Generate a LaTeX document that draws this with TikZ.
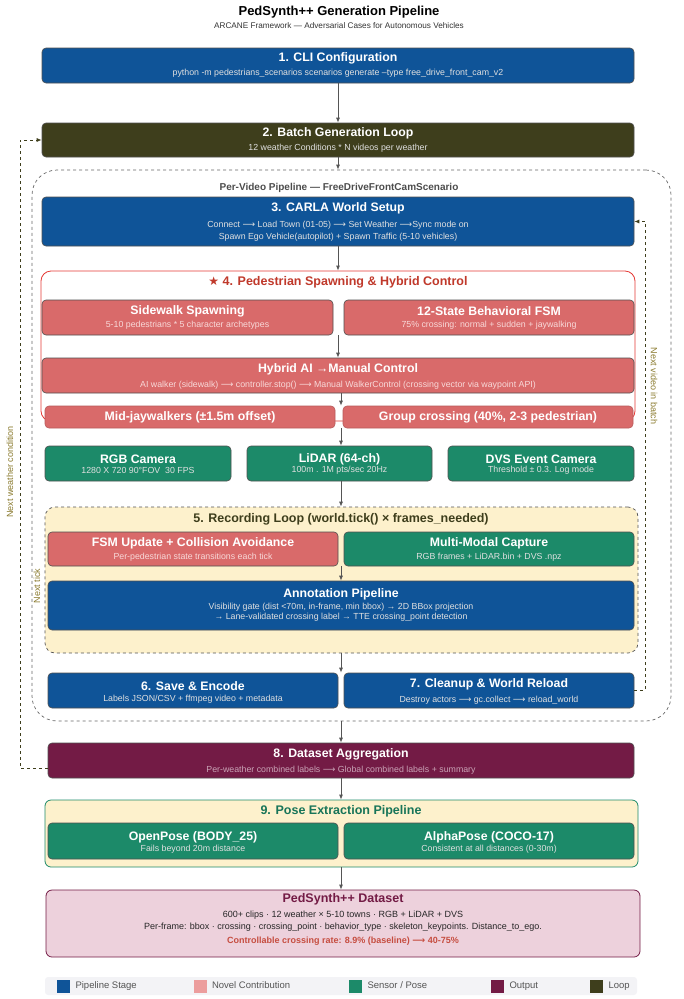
\documentclass[tikz,border=0pt]{standalone}
\usepackage{fontspec}
\setmainfont{Liberation Sans}
\newfontfamily\symfont{DejaVu Sans}
\usetikzlibrary{arrows.meta}
\definecolor{stageblue}{HTML}{0F5498}
\definecolor{novelred}{HTML}{D96A6A}
\definecolor{sensgreen}{HTML}{1C8A69}
\definecolor{outmaroon}{HTML}{731B45}
\definecolor{loopolive}{HTML}{3E3E1C}
\definecolor{paleyellow}{HTML}{FDF1CC}
\definecolor{palepink}{HTML}{EDD1DC}
\definecolor{legendpink}{HTML}{EC9D9D}
\definecolor{legendbg}{HTML}{F3F3F6}
\definecolor{arrowgray}{HTML}{555555}
\definecolor{framegray}{HTML}{666666}
\definecolor{boxedge}{HTML}{4F4F4F}
\definecolor{labelgold}{HTML}{8A7A2E}
\definecolor{redborder}{HTML}{E53935}
\definecolor{redtitle}{HTML}{C0392B}
\definecolor{subpink}{HTML}{F8D9D9}
\definecolor{submauve}{HTML}{C9A3B6}
\newcommand{\lra}{{\symfont ⟶}}
\begin{document}
\begin{tikzpicture}[x=1pt,y=-1pt,
    box/.style={draw=boxedge, line width=0.6pt, rounded corners=4pt, inner sep=0pt},
    stage/.style={box, fill=stageblue},
    novel/.style={box, fill=novelred},
    sensor/.style={box, fill=sensgreen},
    output/.style={box, fill=outmaroon},
    loopbox/.style={box, fill=loopolive},
    ttl/.style={text=white, font=\fontsize{12.3}{14}\selectfont\bfseries},
    sub/.style={text=white!88!black, font=\fontsize{8.8}{10}\selectfont},
    subp/.style={sub, text=subpink},
    grptitle/.style={font=\fontsize{12.5}{14}\selectfont\bfseries},
    flow/.style={draw=arrowgray, line width=0.8pt, -{Latex[length=5pt,width=4pt]}},
    back/.style={draw=loopolive, line width=0.8pt, dashed, -{Latex[length=5pt,width=4pt]}},
    looplabel/.style={text=labelgold, font=\fontsize{9}{10}\selectfont},
    legtxt/.style={anchor=west, text=arrowgray, text height=7pt, text depth=2pt, font=\fontsize{9.5}{11}\selectfont},
  ]
  \useasboundingbox (0,0) rectangle (683,999);

  % header
  \node[font=\fontsize{13}{15}\selectfont\bfseries] (title) at (339,12) {PedSynth++ Generation Pipeline};
  \node[font=\fontsize{8.2}{9}\selectfont, text=black!80] (subtitle) at (339,26) {ARCANE Framework — Adversarial Cases for Autonomous Vehicles};

  % 1. CLI
  \node[stage, minimum width=592pt, minimum height=35pt] (cli) at (338,65.5) {};
  \node[ttl] (cli-t) at (338,58) {1. CLI Configuration};
  \node[sub] (cli-s) at (338,73) {python -m pedestrians\_scenarios scenarios generate --type free\_drive\_front\_cam\_v2};

  % 2. batch loop
  \node[loopbox, minimum width=592pt, minimum height=34pt] (batch) at (338,140) {};
  \node[ttl] (batch-t) at (338,133) {2. Batch Generation Loop};
  \node[sub] (batch-s) at (338,148) {12 weather Conditions * N videos per weather};

  % per-video frame
  \node[draw=framegray, dashed, line width=0.7pt, rounded corners=25pt, minimum width=639pt, minimum height=551pt, inner sep=0pt] (pervid) at (351.5,445.5) {};
  \node[font=\fontsize{10}{11}\selectfont\bfseries, text=black!70] (pervid-t) at (339,188) {Per-Video Pipeline — FreeDriveFrontCamScenario};

  % 3. CARLA
  \node[stage, minimum width=592pt, minimum height=49pt] (carla) at (338,221.5) {};
  \node[ttl] (carla-t) at (338,208) {3. CARLA World Setup};
  \node[sub] (carla-s1) at (338,225) {Connect \lra{} Load Town (01-05) \lra{} Set Weather \lra{}Sync mode on};
  \node[sub] (carla-s2) at (338,237) {Spawn Ego Vehicle(autopilot) + Spawn Traffic (5-10 vehicles)};

  % 4. pedestrians
  \node[draw=redborder, line width=0.8pt, fill=white, rounded corners=10pt, minimum width=594pt, minimum height=150pt, inner sep=0pt] (pedgrp) at (338,346) {};
  \node[grptitle, text=redtitle] (pedgrp-t) at (338,282) {{\symfont\large ★} 4. Pedestrian Spawning \& Hybrid Control};
  \node[novel, minimum width=291pt, minimum height=35pt] (sidewalk) at (187.5,317.5) {};
  \node[ttl] (sidewalk-t) at (187.5,311) {Sidewalk Spawning};
  \node[subp] (sidewalk-s) at (187.5,325) {5-10 pedestrians * 5 character archetypes};
  \node[novel, minimum width=290pt, minimum height=35pt] (fsm) at (489,317.5) {};
  \node[ttl] (fsm-t) at (489,311) {12-State Behavioral FSM};
  \node[subp] (fsm-s) at (489,325) {75\% crossing: normal + sudden + jaywalking};
  \node[novel, minimum width=592pt, minimum height=35pt] (hybrid) at (338,375.5) {};
  \node[ttl] (hybrid-t) at (338,369) {Hybrid AI →Manual Control};
  \node[subp] (hybrid-s) at (338,385) {AI walker (sidewalk) \lra{} controller.stop() \lra{} Manual WalkerControl (crossing vector via waypoint API)};
  \node[novel, draw=novelred!85!black, minimum width=290pt, minimum height=22pt] (midjay) at (190,417) {};
  \node[ttl] (midjay-t) at (190,417) {Mid-jaywalkers (±1.5m offset)};
  \node[novel, draw=novelred!85!black, minimum width=290pt, minimum height=22pt] (group) at (488,417) {};
  \node[ttl] (group-t) at (488,417) {Group crossing (40\%, 2-3 pedestrian)};

  % sensors
  \node[sensor, minimum width=186pt, minimum height=35pt] (rgb) at (138,463.5) {};
  \node[ttl] (rgb-t) at (138,459) {RGB Camera};
  \node[sub] (rgb-s) at (138,470.5) {1280 X 720 90°FOV\ \ 30 FPS};
  \node[sensor, minimum width=185pt, minimum height=35pt] (lidar) at (339.5,463.5) {};
  \node[ttl] (lidar-t) at (339.5,459) {LiDAR (64-ch)};
  \node[sub] (lidar-s) at (339.5,470.5) {100m . 1M pts/sec 20Hz};
  \node[sensor, minimum width=186pt, minimum height=35pt] (dvs) at (541,463.5) {};
  \node[ttl] (dvs-t) at (541,459) {DVS Event Camera};
  \node[sub] (dvs-s) at (541,470.5) {Threshold ± 0.3. Log mode};

  % 5. recording loop
  \node[draw=arrowgray, dashed, fill=paleyellow, line width=0.7pt, rounded corners=10pt, minimum width=593pt, minimum height=146pt, inner sep=0pt] (rec) at (341.5,580) {};
  \node[grptitle, text=loopolive] (rec-t) at (341,519) {5. Recording Loop (world.tick() × frames\_needed)};
  \node[novel, minimum width=290pt, minimum height=34pt] (fsmupd) at (193,549) {};
  \node[ttl] (fsmupd-t) at (193,543) {FSM Update + Collision Avoidance};
  \node[subp] (fsmupd-s) at (193,557) {Per-pedestrian state transitions each tick};
  \node[sensor, minimum width=290pt, minimum height=34pt] (capture) at (489,549) {};
  \node[ttl] (capture-t) at (489,543) {Multi-Modal Capture};
  \node[sub] (capture-s) at (489,557) {RGB frames + LiDAR.bin + DVS .npz};
  \node[stage, minimum width=586pt, minimum height=49pt] (annot) at (341,605.5) {};
  \node[ttl] (annot-t) at (341,594) {Annotation Pipeline};
  \node[sub] (annot-s1) at (341,607) {Visibility gate (dist <70m, in-frame, min bbox) → 2D BBox projection};
  \node[sub] (annot-s2) at (341,617) {→ Lane-validated crossing label → TTE crossing\_point detection};

  % 6. / 7.
  \node[stage, minimum width=290pt, minimum height=35pt] (save) at (193,690.5) {};
  \node[ttl] (save-t) at (193,686) {6. Save \& Encode};
  \node[sub] (save-s) at (193,699) {Labels JSON/CSV + ffmpeg video + metadata};
  \node[stage, minimum width=290pt, minimum height=35pt] (cleanup) at (489,690.5) {};
  \node[ttl] (cleanup-t) at (489,684) {7. Cleanup \& World Reload};
  \node[sub] (cleanup-s) at (489,700) {Destroy actors \lra{} gc.collect \lra{} reload\_world};

  % 8. aggregation
  \node[output, minimum width=586pt, minimum height=35pt] (agg) at (341,760.5) {};
  \node[ttl] (agg-t) at (341,754) {8. Dataset Aggregation};
  \node[sub, text=submauve] (agg-s) at (341,770) {Per-weather combined labels \lra{} Global combined labels + summary};

  % 9. pose
  \node[draw=sensgreen, fill=paleyellow, line width=0.8pt, rounded corners=6pt, minimum width=593pt, minimum height=67pt, inner sep=0pt] (pose) at (341.5,833.5) {};
  \node[grptitle, text=sensgreen!85!black] (pose-t) at (341,811) {9. Pose Extraction Pipeline};
  \node[sensor, minimum width=290pt, minimum height=36pt] (openpose) at (193,841) {};
  \node[ttl] (openpose-t) at (193,837) {OpenPose (BODY\_25)};
  \node[sub] (openpose-s) at (193,849.5) {Fails beyond 20m distance};
  \node[sensor, minimum width=290pt, minimum height=36pt] (alphapose) at (489,841) {};
  \node[ttl] (alphapose-t) at (489,837) {AlphaPose (COCO-17)};
  \node[sub] (alphapose-s) at (489,849.5) {Consistent at all distances (0-30m)};

  % dataset
  \node[draw=outmaroon, fill=palepink, line width=0.8pt, rounded corners=6pt, minimum width=594pt, minimum height=67pt, inner sep=0pt] (dataset) at (343,923.5) {};
  \node[grptitle, text=outmaroon] (dataset-t) at (343,899) {PedSynth++ Dataset};
  \node[font=\fontsize{9}{10}\selectfont, text=black!85] (dataset-s1) at (343,915) {600+ clips · 12 weather × 5-10 towns · RGB + LiDAR + DVS};
  \node[font=\fontsize{9}{10}\selectfont, text=black!85] (dataset-s2) at (343,927) {Per-frame: bbox · crossing · crossing\_point · behavior\_type · skeleton\_keypoints. Distance\_to\_ego.};
  \node[font=\fontsize{9}{10}\selectfont\bfseries, text=redtitle!90!white] (dataset-s3) at (343,941) {Controllable crossing rate: 8.9\% (baseline) \lra{} 40-75\%};

  % main flow
  \coordinate (spine) at (341,0);
  \draw[flow] (cli) -- (batch);
  \draw[flow] (batch) -- (batch.south |- pervid.north);
  \draw[flow] (carla) -- (pedgrp);
  \draw[flow] (sidewalk.south east -| hybrid.north) -- (hybrid.north);
  \draw[flow] (hybrid.south -| spine) -- (midjay.north -| spine);
  \draw[flow] (midjay.south -| spine) -- (lidar.north -| spine);
  \draw[flow] (lidar.south -| spine) -- (rec.north -| spine);
  \draw[flow] (fsmupd.south -| spine) -- (annot.north -| spine);
  \draw[flow] (rec.south -| spine) -- (save.north -| spine);
  \draw[flow] (pervid.south -| spine) -- (agg.north -| spine);
  \draw[flow] (agg.south -| spine) -- (pose.north -| spine);
  \draw[flow] (pose.south -| spine) -- (dataset.north -| spine);

  % loops back
  \coordinate (wloop) at (20,0);
  \coordinate (vloop) at (645,0);
  \draw[back] ([yshift=-7.5pt]agg.west) -- ([yshift=-7.5pt]agg.west -| wloop) -- (batch.west -| wloop) -- (batch.west);
  \draw[back] (cleanup.east) -- (cleanup.east -| vloop) -- (carla.east -| vloop) -- (carla.east);
  \node[looplabel, rotate=90] (wloop-l) at (10,472) {Next weather condition};
  \node[looplabel, rotate=-90] (vloop-l) at (654,386) {Next video in batch};
  \node[looplabel, rotate=90] (tick-l) at (37,586) {Next tick};

  % legend
  \node[fill=legendbg, rounded corners=3pt, minimum width=592pt, minimum height=18pt, inner sep=0pt] (legend) at (341,986) {};
  \node[fill=stageblue, minimum size=13pt, inner sep=0pt] (leg-stage) at (63.5,986) {};
  \node[legtxt] (leg-stage-t) at (72,986) {Pipeline Stage};
  \node[fill=legendpink, minimum size=13pt, inner sep=0pt] (leg-novel) at (200,986) {};
  \node[legtxt] (leg-novel-t) at (208.5,986) {Novel Contribution};
  \node[fill=sensgreen, minimum size=13pt, inner sep=0pt] (leg-sensor) at (355.5,986) {};
  \node[legtxt] (leg-sensor-t) at (364,986) {Sensor / Pose};
  \node[fill=outmaroon, minimum size=13pt, inner sep=0pt] (leg-output) at (497.5,986) {};
  \node[legtxt] (leg-output-t) at (506,986) {Output};
  \node[fill=loopolive, minimum size=13pt, inner sep=0pt] (leg-loop) at (596.5,986) {};
  \node[legtxt] (leg-loop-t) at (605,986) {Loop};
\end{tikzpicture}
\end{document}
